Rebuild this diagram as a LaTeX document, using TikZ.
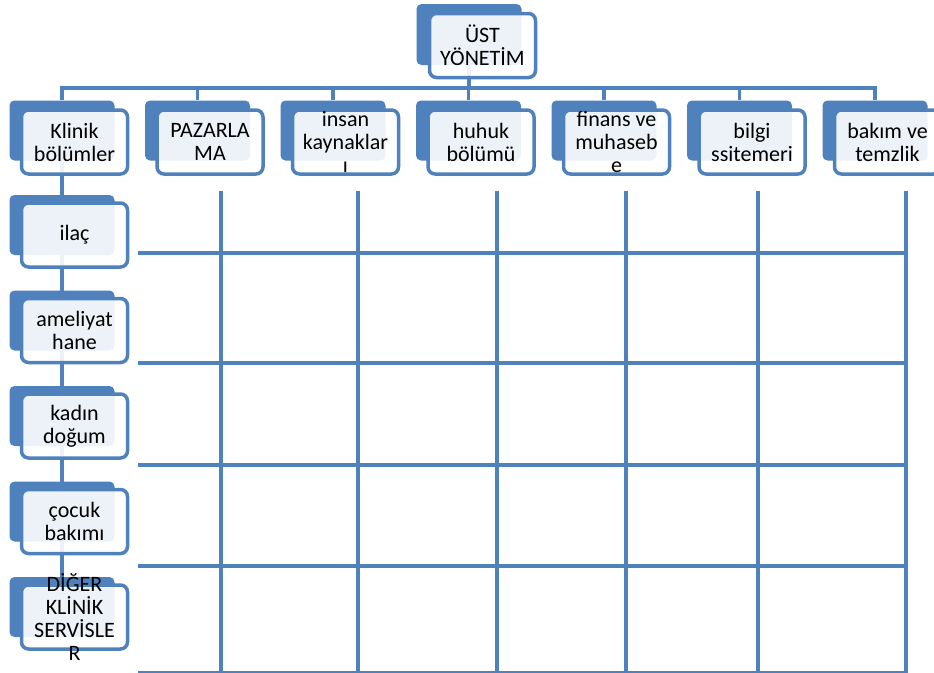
\documentclass[tikz,border=0pt]{standalone}
\usepackage{fontspec}
\setmainfont{Carlito}
\usetikzlibrary{backgrounds}
\definecolor{accent}{HTML}{4F81BD}
\begin{document}
\begin{tikzpicture}[x=1pt,y=-1pt,
  backbox/.style={fill=accent, rounded corners=5pt, minimum width=105pt,
    minimum height=60pt, inner sep=0pt},
  frontbox/.style={draw=accent, line width=3.5pt, fill=white, fill opacity=0.9,
    rounded corners=7pt, minimum width=106pt, minimum height=64pt, inner sep=0pt},
  boxtext/.style={font=\fontsize{22}{23}\selectfont, align=center,
    text=black, inner sep=0pt},
  link/.style={draw=accent, line width=3.5pt, line join=miter},
  gridline/.style={draw=accent, line width=4pt}]
\useasboundingbox (0,0) rectangle (934,672);
\clip (0,0) rectangle (934,672);

% top management
\node[backbox, minimum height=61pt] (topb) at (469,34.5) {};
\node[frontbox] (topf) at (482.5,45.5) {};
\node[boxtext] (topt) at (topf.center) {ÜST\\YÖNETİM};

% departments
\foreach \i/\txt in {1/{Klinik\\bölümler}, 2/{PAZARLA\\MA}, 3/{insan\\kaynaklar\\ı},
    4/{huhuk\\bölümü}, 5/{finans ve\\muhaseb\\e}, 6/{bilgi\\ssitemeri},
    7/{bakım ve\\temzlik}} {
  \pgfmathsetmacro{\d}{62+135.5*(\i-1)}
  \node[backbox] (b\i) at (\d,130.5) {};
  \node[frontbox] (f\i) at (\d+12.5,142) {};
  \node[boxtext] (t\i) at (f\i.center) {\txt};
}

% clinical units
\foreach \j/\txt in {1/{ilaç}, 2/{ameliyat\\hane}, 3/{kadın\\doğum},
    4/{çocuk\\bakımı}, 5/{DİĞER\\KLİNİK\\SERVİSLE\\R}} {
  \pgfmathsetmacro{\t}{195+95.5*(\j-1)}
  \node[backbox] (c\j) at (62,\t+30) {};
  \node[frontbox] (g\j) at (74.5,\t+40) {};
  \node[boxtext] (u\j) at (g\j.center) {\txt};
}

\begin{scope}[on background layer]
  \fill[white] (0,0) rectangle (934,672);
  \coordinate (bus) at (0,88);
  \draw[link] (topb.south) -- (topb.south |- bus);
  \draw[link] (b1.north) -- (b1.north |- bus) -- (b7.north |- bus) -- (b7.north);
  \foreach \i in {2,...,6}
    \draw[link] (b\i.north |- bus) -- (b\i.north);
  \draw[link, line width=4pt] (b1.south) -- (c5.center);
\end{scope}

% matrix grid
\foreach \x in {220.5,358,497,626,758,906}
  \draw[gridline] (\x,190.5) -- (\x,680);
\foreach \y in {253,363,465,566,673}
  \draw[gridline] (138,\y) -- (908,\y);
\end{tikzpicture}
\end{document}
